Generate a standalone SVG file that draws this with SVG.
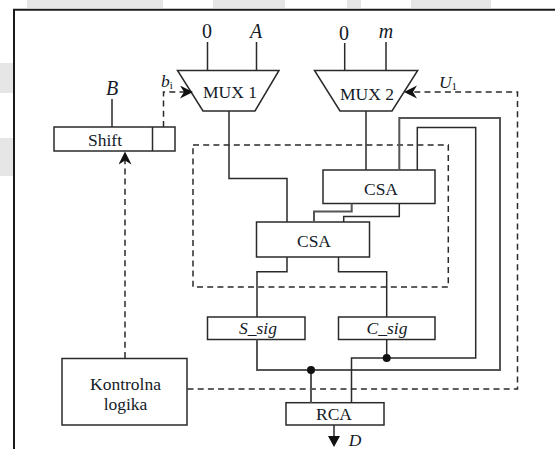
<svg xmlns="http://www.w3.org/2000/svg" width="555" height="449" viewBox="0 0 555 449">
<style>
.b{fill:#fff;stroke:#2a2a2a;stroke-width:1.5}
.w{fill:none;stroke:#2a2a2a;stroke-width:1.5}
.g{fill:none;stroke:#555;stroke-width:2}
.d{fill:none;stroke:#2a2a2a;stroke-width:1.5;stroke-dasharray:6 4.200}
text{font-family:"Liberation Serif",serif;font-size:17.500px;fill:#141a26;text-anchor:middle}
.i{font-style:italic}
.l{font-size:20px}
</style>
<defs>
<marker id="a" markerUnits="userSpaceOnUse" markerWidth="14" markerHeight="14" refX="9" refY="6.500" orient="auto"><path d="M0 0L13 6.500L0 13L4 6.500Z" fill="#111"/></marker>
</defs>
<rect width="555" height="449" fill="#fff"/>
<g id="background" fill="#e6e6e6">
<rect x="27" y="0" width="136" height="8"/><rect x="213" y="0" width="72" height="8"/><rect x="347" y="0" width="14" height="8"/><rect x="411" y="0" width="80" height="8"/>
<rect x="0" y="63" width="13" height="30"/><rect x="0" y="138" width="13" height="38"/>
</g>
<path id="frame" d="M14 449V9.800H555" fill="none" stroke="#1a1a1a" stroke-width="2"/>
<g id="mux1"><path class="b" d="M177.500 70.500H279L255 111H203Z"/><text x="230" y="98">MUX 1</text></g>
<g id="mux2"><path class="b" d="M314.500 70.500H417.700L392 111H340Z"/><text x="367" y="99.500">MUX 2</text></g>
<g id="shift"><rect class="b" x="54" y="127" width="121" height="24"/><path class="w" d="M152.500 127V151"/><text x="105" y="146">Shift</text></g>
<g id="csa1"><rect class="b" x="323" y="170" width="112" height="33.500"/><text x="381" y="195">CSA</text></g>
<g id="csa2"><rect class="b" x="256.500" y="222" width="113" height="35"/><text x="314" y="247">CSA</text></g>
<g id="ssig"><rect class="b" x="207.500" y="317" width="97.500" height="22.500"/><text class="i" x="258" y="334">S_sig</text></g>
<g id="csig"><rect class="b" x="338.500" y="317" width="96.500" height="22.500"/><text class="i" x="387" y="334">C_sig</text></g>
<g id="rca"><rect class="b" x="286" y="402.700" width="98" height="22.300"/><text x="334" y="420">RCA</text></g>
<g id="kontrolna"><rect class="b" x="62" y="358.500" width="125" height="66.500"/><text x="125.500" y="390">Kontrolna</text><text x="125.500" y="410">logika</text></g>
<g id="connectors">
<path class="w" d="M207.500 42V70.500M256.500 42V70.500M344.700 43V70.500M386 42V70.500M112 99V127"/>
<path class="d" d="M163.500 127V92H189" marker-end="url(#a)"/>
<path class="d" d="M125 358V155.500" marker-end="url(#a)"/>
<path class="d" d="M187.500 389H517.500V92H408" marker-end="url(#a)"/>
<path class="d" d="M193 145H448.300V287H193Z"/>
<path class="w" d="M229 111V178.500H287V222"/>
<path class="w" d="M366 111V170"/>
<path class="g" d="M257 339.500V370H500V118H399.300V170"/>
<path class="w" d="M386.700 339.500V358"/>
<path class="w" d="M351.500 402.700V358H475.700V127.500H417.300V170"/>
<path class="g" d="M311 370V402.700"/>
<path class="g" d="M351.700 203.500V211.500H314V222"/>
<path class="w" d="M399.300 203.500V216.500H343.700V222"/>
<path class="w" d="M287 257V271.700H257V317"/>
<path class="w" d="M338.500 257V271.700H386.700V317"/>
<circle cx="311" cy="370" r="4" fill="#111"/>
<circle cx="386.700" cy="358" r="4" fill="#111"/>
<path class="w" d="M334 425V436"/>
<path d="M328 436H340L334 447Z" fill="#111"/>
</g>
<g id="labels">
<text class="l" x="207" y="38">0</text><text class="l i" x="256" y="38">A</text>
<text class="l" x="344" y="40">0</text><text class="l i" x="386" y="38">m</text>
<text class="l i" x="112" y="95">B</text>
<text class="i" x="167" y="87">b<tspan font-size="11" font-style="normal" dy="2">i</tspan></text>
<text class="i" x="448" y="87.500">U<tspan font-size="11" font-style="normal" dy="2">1</tspan></text>
<text class="i" x="355" y="445.700">D</text>
</g>
</svg>
